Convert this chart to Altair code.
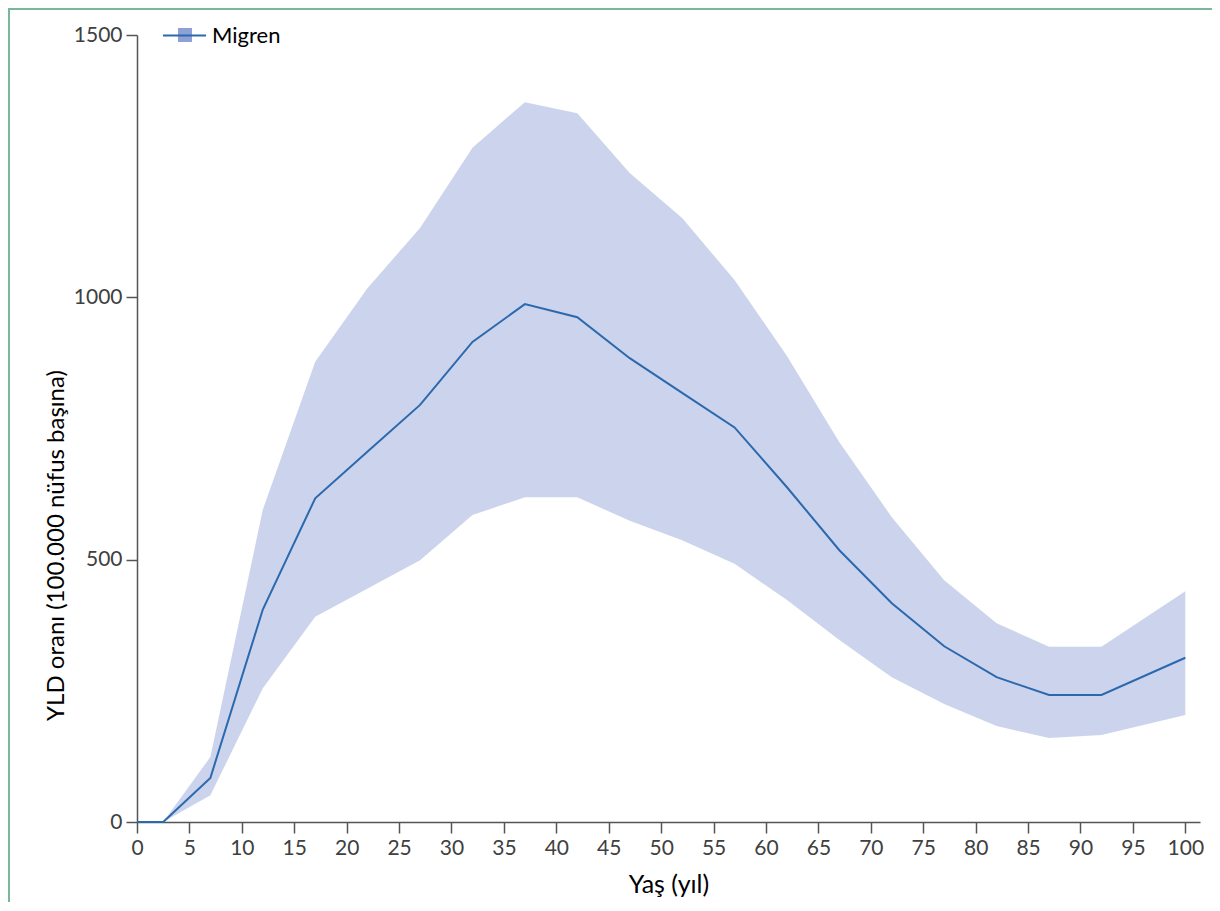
import altair as alt
import pandas as pd

age = [0, 2.5, 7, 12, 17, 22, 27, 32, 37, 42, 47, 52, 57, 62, 67, 72, 77, 82, 87, 92, 100]
mean = [0, 0, 84, 405, 617, 706, 795, 915, 987, 962, 884, 818, 752, 638, 518, 417, 335, 276, 242, 242, 313]
upper = [0, 0, 124, 595, 877, 1018, 1132, 1285, 1372, 1351, 1237, 1151, 1033, 888, 724, 581, 461, 379, 334, 334, 440]
lower = [0, 0, 51, 255, 391, 445, 499, 585, 619, 619, 574, 537, 492, 423, 347, 276, 225, 183, 160, 166, 204]
series = ["Migren"] * len(age)

x_ticks = list(range(0, 101, 5))
y_ticks = [0, 500, 1000, 1500]

df = pd.DataFrame({"age": age, "mean": mean, "upper": upper, "lower": lower, "s": series})

FONT = "Lato"
LINE = "#2b69ae"
BAND = "#8fa0d6"

x = alt.X("age:Q", scale=alt.Scale(domain=[0, 101.4], nice=False, zero=False),
          axis=alt.Axis(values=x_ticks, title="Yaş (yıl)", grid=False, labelFlush=False,
                        titleY=70, titleBaseline="alphabetic"))
y_axis = alt.Axis(values=y_ticks, format="d", title="YLD oranı (100.000 nüfus başına)", grid=False,
                  labelFlush=False,
                  titleX=-74, titleY=510, titleBaseline="alphabetic", titleAngle=-90,
                  titleAlign="center")
yscale = alt.Scale(domain=[0, 1500], nice=False)

band = alt.Chart(df).mark_area(opacity=0.46).encode(
    x=x,
    y=alt.Y("lower:Q", scale=yscale, axis=y_axis),
    y2="upper:Q",
    fill=alt.Fill("s:N", scale=alt.Scale(range=[BAND]),
                  legend=alt.Legend(title=None, orient="none", legendX=37, legendY=-11,
                                    symbolType="square", symbolSize=196, symbolOpacity=1,
                                    labelExpr="''", labelFontSize=22, labelOffset=22,
                                    padding=0)),
)

line = alt.Chart(df).mark_line(strokeWidth=2).encode(
    x=x,
    y=alt.Y("mean:Q", scale=yscale),
    stroke=alt.Stroke("s:N", scale=alt.Scale(range=[LINE]),
                      legend=alt.Legend(title=None, orient="none", legendX=25, legendY=-22,
                                        symbolType="stroke", symbolSize=1849,
                                        symbolStrokeWidth=2, labelFontSize=22,
                                        labelOffset=5, labelColor="#000000", padding=0)),
)

border = alt.Chart(pd.DataFrame({"a": [0]})).mark_rect(
    fillOpacity=0, stroke="#79b69a", strokeWidth=2
).encode(x=alt.value(-128), x2=alt.value(1100), y=alt.value(-26), y2=alt.value(900))

chart = alt.layer(border, band, line).resolve_legend(fill="independent", stroke="independent").properties(
    width=1063, height=787,
    padding={"left": 129, "top": 27, "right": 12, "bottom": 80},
    autosize="none",
).configure_view(stroke=None).configure_axis(
    labelFont=FONT, titleFont=FONT, labelFontSize=21, titleFontSize=25,
    labelColor="#404040", titleColor="#000000", titleFontWeight="normal",
    domainColor="#555555", domainWidth=1.5, tickColor="#555555", tickWidth=1.5,
    tickSize=11, labelPadding=4,
).configure_axisY(titleFontSize=24).configure_legend(labelFont=FONT)

chart.save("out.html", embed_options={"renderer": "svg", "actions": False})
